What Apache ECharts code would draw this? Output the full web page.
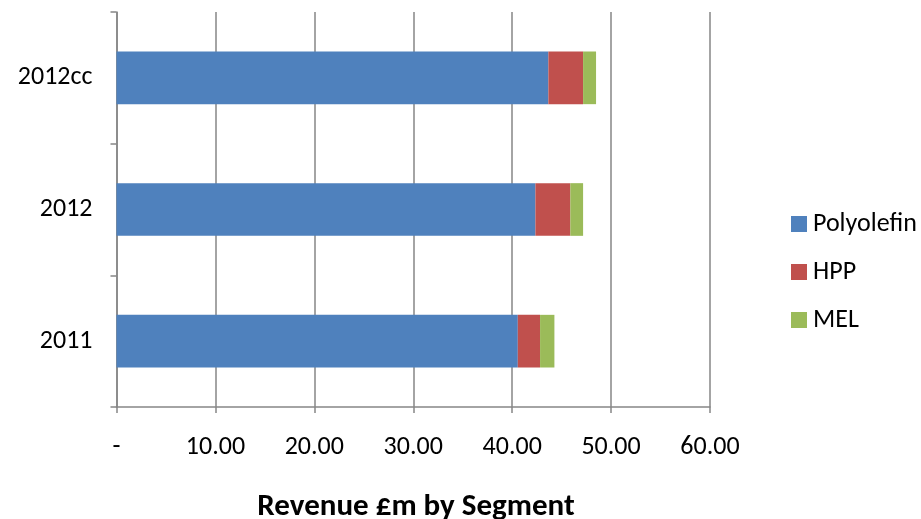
<!DOCTYPE html>
<html>
<head>
<meta charset="utf-8">
<script src="https://cdn.jsdelivr.net/npm/echarts@6/dist/echarts.min.js"></script>
<style>
  html, body { margin: 0; padding: 0; background: #fff; }
  #chart { width: 921px; height: 519px; }
</style>
</head>
<body>
<div id="chart"></div>
<script>
// Revenue by segment (£m)
const years = ['2011', '2012', '2012cc'];
const polyolefin = [40.57, 42.35, 43.66];
const hpp = [2.25, 3.53, 3.51];
const mel = [1.45, 1.29, 1.31];
const xTicks = [0, 10, 20, 30, 40, 50, 60];

const font = 'Carlito, Calibri, "Liberation Sans", sans-serif';
const gridGrey = '#868686';

const chart = echarts.init(document.getElementById('chart'));

function seg(name, values, color) {
  return {
    name: name,
    type: 'bar',
    stack: 'rev',
    data: values,
    barCategoryGap: '60%',
    itemStyle: { color: color },
    emphasis: { disabled: true }
  };
}

chart.setOption({
  animation: false,
  textStyle: { fontFamily: font },
  title: {
    text: 'Revenue £m by Segment',
    left: 411,
    textAlign: 'center',
    top: 487,
    textStyle: { fontFamily: font, fontSize: 31, fontWeight: 'bold', color: '#000' }
  },
  legend: {
    orient: 'vertical',
    left: 786,
    top: 206,
    itemWidth: 16,
    itemHeight: 16,
    itemGap: 22,
    icon: 'rect',
    data: ['Polyolefin', 'HPP', 'MEL'],
    textStyle: { fontFamily: font, fontSize: 26, color: '#000', padding: [0, 0, 0, 1] }
  },
  grid: { left: 116.5, right: 211, top: 12, bottom: 112, containLabel: false },
  xAxis: {
    type: 'value',
    min: xTicks[0],
    max: xTicks[xTicks.length - 1],
    interval: 10,
    axisLine: { show: true, lineStyle: { color: gridGrey, width: 1.5 } },
    axisTick: { show: true, length: 6, lineStyle: { color: gridGrey, width: 1.5 } },
    splitLine: { show: true, lineStyle: { color: gridGrey, width: 1.5 } },
    axisLabel: {
      margin: 27,
      fontFamily: font,
      fontSize: 26,
      color: '#000',
      formatter: v => (v === 0 ? '-' : v.toFixed(2))
    }
  },
  yAxis: {
    type: 'category',
    data: years,
    axisLine: { show: true, lineStyle: { color: gridGrey, width: 1.5 } },
    axisTick: { show: true, length: 6, lineStyle: { color: gridGrey, width: 1.5 } },
    axisLabel: { margin: 24, fontFamily: font, fontSize: 26, color: '#000' }
  },
  series: [
    seg('Polyolefin', polyolefin, '#4F81BD'),
    seg('HPP', hpp, '#C0504D'),
    seg('MEL', mel, '#9BBB59')
  ]
});
</script>
</body>
</html>
